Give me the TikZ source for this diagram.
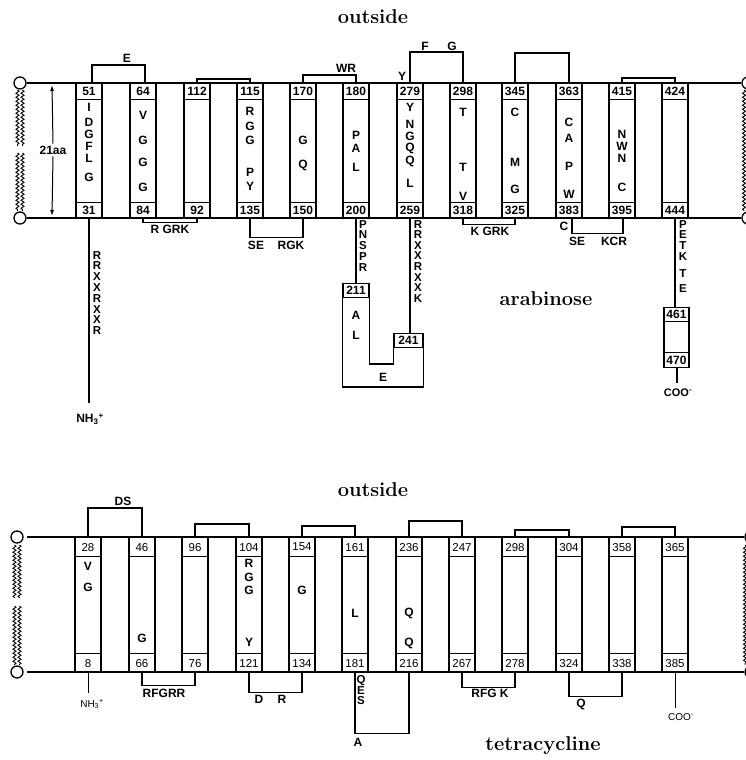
\documentclass[tikz,border=0pt]{standalone}
\usepackage{fontspec}
\setsansfont{Liberation Sans}
\usetikzlibrary{decorations.pathmorphing,arrows.meta}
\newcommand{\nhthree}{NH\textsubscript{3}\textsuperscript{+}}
\begin{document}
\begin{tikzpicture}[x=1pt,y=-1pt,
  memb/.style={line width=2.7pt},
  helix/.style={draw, line width=1.3pt, fill=white, minimum width=26pt, inner sep=0pt, anchor=north},
  numA/.style={draw, line width=1.2pt, fill=white, minimum width=26pt, minimum height=16pt, inner sep=0pt, font=\sffamily\bfseries\fontsize{12}{13}\selectfont},
  numB/.style={draw, line width=1.1pt, fill=white, minimum width=26pt, minimum height=19pt, inner sep=0pt, font=\sffamily\fontsize{11.5}{12}\selectfont},
  aa/.style={font=\sffamily\bfseries\fontsize{12}{13}\selectfont, inner sep=0pt},
  seq/.style={font=\sffamily\bfseries\fontsize{11.5}{10.8}\selectfont, align=center, inner sep=0pt, anchor=north},
  lab/.style={font=\sffamily\bfseries\fontsize{12}{13}\selectfont, inner sep=0pt},
  lp/.style={line width=1.3pt},
  ttl/.style={font=\bfseries\fontsize{20}{21}\selectfont, inner sep=0pt},
  lipid/.style={decorate, decoration={snake, amplitude=1.5pt, segment length=4pt}, line width=0.9pt},
  head/.style={circle, draw, line width=1.3pt, fill=white, minimum size=12pt, inner sep=0pt},
]
\useasboundingbox (0,0) rectangle (745,760);

% ================= TOP PANEL (arabinose) =================
\node[ttl] (out1) at (373,17) {outside};
\node[ttl] (arab) at (546,299) {arabinose};

\foreach \x/\t/\b [count=\i] in {89/51/31,143/64/84,197/112/92,250/115/135,303/170/150,356/180/200,410/279/259,463/298/318,515/345/325,569/363/383,622/415/395,675/424/444}{
  \node[helix, minimum height=135pt] (A\i) at (\x,83) {};
  \node[numA, anchor=north] (At\i) at (A\i.north) {\t};
  \node[numA, anchor=south] (Ab\i) at (A\i.south) {\b};
}

% residues inside helices
\foreach \h/\l/\y [count=\k] in {1/I/107,1/D/122,1/G/134,1/F/146,1/L/158,1/G/177,
  2/V/115,2/G/140,2/G/162,2/G/187,
  4/R/111,4/G/126,4/G/140,4/P/172,4/Y/186,
  5/G/140,5/Q/165,
  6/P/135,6/A/148,6/L/167,
  7/Y/107,7/N/124,7/G/136,7/Q/148,7/Q/161,7/L/183,
  8/T/112,8/T/167,8/V/196,
  9/C/112,9/M/162,9/G/189,
  10/C/122,10/A/138,10/P/166,10/W/194,
  11/N/134,11/W/146,11/N/158,11/C/187}{
  \node[aa] (ra\k) at (A\h.center |- 0,\y) {\l};
}

% membrane heads and lines
\node[head] (h1) at (20,83) {};
\node[head] (h2) at (20,218) {};
\node[head] (h3) at (748,83) {};
\node[head] (h4) at (748,218) {};
\draw[memb] (h1.east) -- (h3.west);
\draw[memb] (h2.east) -- (h4.west);
\draw[lipid] (17.5,90) -- (17.5,146);
\draw[lipid] (22.5,90) -- (22.5,146);
\draw[lipid] (17.5,153) -- (17.5,211);
\draw[lipid] (22.5,153) -- (22.5,211);
\draw[lipid] (744,90) -- (744,211);

% 21aa
\node[lab, fill=white, inner sep=2pt] (aa21) at (53,150) {21aa};
\coordinate (arT) at (52,85);
\coordinate (arB) at (52,216);
\draw[line width=1pt, -{Latex[length=6pt,width=4pt]}] (aa21.north) -- (arT);
\draw[line width=1pt, -{Latex[length=6pt,width=4pt]}] (aa21.south) -- (arB);

% outside loops
\draw[lp] ([xshift=3pt]A1.north) -- ++(0,-18) -| ([xshift=2pt]A2.north);
\node[lab] (lE) at (127,58) {E};
\draw[lp] (A3.north) -- ++(0,-4) -| (A4.north);
\draw[lp] (A5.north) -- ++(0,-8) -| (A6.north);
\node[lab] (lWR) at (346,68) {WR};
\draw[lp] (A7.north) -- ++(0,-31) -| (A8.north);
\node[lab] (lY) at (402,76) {Y};
\node[lab] (lF) at (425,46) {F};
\node[lab] (lG) at (452,46) {G};
\draw[lp] (A9.north) -- ++(0,-30) -| (A10.north);
\draw[lp] (A11.north) -- ++(0,-5) -| (A12.north);

% inside loops
\node[font=\sffamily\bfseries\fontsize{12}{13}\selectfont, inner sep=0pt] (nh3a) at (90,419) {\nhthree};
\draw[lp] (A1.south) -- (A1.south |- 0,403);
\node[seq] (sq1) at (97,251) {R\\R\\X\\X\\R\\X\\X\\R};

\draw[lp] (A2.south) -- ++(0,3) -| (A3.south);
\node[lab] (lRGRK) at (170,229) {R GRK};

\draw[lp] (A4.south) -- ++(0,18) -| (A5.south);
\node[lab] (lSE1) at (256,245) {SE};
\node[lab] (lRGK) at (291,245) {RGK};

\node[numA, minimum height=14pt, anchor=north] (n211) at (356,283) {211};
\node[numA, minimum width=29pt, minimum height=14pt, anchor=north] (n241) at (408.5,333) {241};
\draw[lp] (n211.north west) -- (n211.west |- 0,387) -- (n241.east |- 0,387) -- (n241.north east);
\draw[lp] (n241.west) -- (n241.west |- 0,364) -- (n211.east |- 0,364) -- (n211.east);
\draw[lp] (A6.south) -- (n211.north);
\draw[lp] (A7.south) -- (A7.south |- n241.north);
\node[seq] (sq2) at (363,220) {P\\N\\S\\P\\R};
\node[seq, font=\sffamily\bfseries\fontsize{11.5}{10.6}\selectfont] (sq3) at (418,220) {R\\R\\X\\X\\R\\X\\X\\K};
\node[lab] (lA1) at (356,315) {A};
\node[lab] (lL1) at (356,335) {L};
\node[lab] (lE2) at (383,377) {E};

\draw[lp] (A8.south) -- ++(0,5) -| (A9.south);
\node[lab] (lKGRK) at (490,231) {K GRK};

\draw[lp] ([xshift=3pt]A10.south) -- ++(0,14) -| ([xshift=1pt]A11.south);
\node[lab] (lC) at (564,226) {C};
\node[lab] (lSE2) at (577,241) {SE};
\node[lab] (lKCR) at (614,241) {KCR};

\node[numA, minimum width=25pt, minimum height=60pt, anchor=north] (cbox) at (676.5,307) {};
\node[numA, minimum width=25pt, minimum height=14pt, anchor=north] (n461) at (cbox.north) {461};
\node[numA, minimum width=25pt, minimum height=15pt, anchor=south] (n470) at (cbox.south) {470};
\draw[lp] (A12.south) -- (A12.south |- cbox.north);
\node[font=\sffamily\bfseries\fontsize{11}{12}\selectfont, inner sep=0pt] (cooa) at (678,393) {COO\textsuperscript{-}};
\draw[line width=2pt] (cbox.south) -- (cbox.south |- 0,383);
\node[seq] (sq4) at (683,220) {P\\E\\T\\K\\[6pt]T\\[4pt]E};

% ================= BOTTOM PANEL (tetracycline) =================
\node[ttl] (out2) at (373,490) {outside};
\node[ttl] (tetra) at (543,746) {tetracycline};

\foreach \x/\t/\b [count=\i] in {88/28/8,142/46/66,195/96/76,249/104/121,302/154/134,355/161/181,409/236/216,462/247/267,515/298/278,569/304/324,622/358/338,675/365/385}{
  \node[helix, minimum height=135pt] (B\i) at (\x,537) {};
  \node[numB, anchor=north] (Bt\i) at (B\i.north) {\t};
  \node[numB, anchor=south] (Bb\i) at (B\i.south) {\b};
}
\foreach \h/\l/\y [count=\k] in {1/V/566,1/G/587,2/G/638,4/R/563,4/G/577,4/G/590,4/Y/642,5/G/590,6/L/613,7/Q/613,7/Q/643}{
  \node[aa] (rb\k) at (B\h.center |- 0,\y) {\l};
}

\node[head] (h5) at (17,537) {};
\node[head] (h6) at (17,672) {};
\node[head] (h7) at (751,537) {};
\node[head] (h8) at (751,672) {};
\coordinate (m5) at (27,537);
\coordinate (m6) at (27,672);
\draw[memb] (m5) -- (h7.west);
\draw[memb] (m6) -- (h8.west);
\draw[lipid] (14.5,545) -- (14.5,598);
\draw[lipid] (19.5,545) -- (19.5,598);
\draw[lipid] (14.5,606) -- (14.5,665);
\draw[lipid] (19.5,606) -- (19.5,665);
\draw[lipid] (745,545) -- (745,665);

% outside loops
\draw[lp] (B1.north) -- ++(0,-29) -| (B2.north);
\node[lab] (lDS) at (123,501) {DS};
\draw[lp] (B3.north) -- ++(0,-13) -| (B4.north);
\draw[lp] (B5.north) -- ++(0,-11) -| (B6.north);
\draw[lp] (B7.north) -- ++(0,-16) -| (B8.north);
\draw[lp] (B9.north) -- ++(0,-7) -| (B10.north);
\draw[lp] (B11.north) -- ++(0,-10) -| (B12.north);

% inside loops
\node[font=\sffamily\fontsize{10}{11}\selectfont, inner sep=0pt] (nh3b) at (92,704) {\nhthree};
\draw[line width=1pt] (B1.south) -- (B1.south |- 0,693);
\draw[lp] (B2.south) -- ++(0,12) -| (B3.south);
\node[lab] (lRFGRR) at (164,693) {RFGRR};
\draw[lp] (B4.south) -- ++(0,19) -| (B5.south);
\node[lab] (lD) at (259,699) {D};
\node[lab] (lR) at (282,699) {R};
\draw[lp] (B6.south) -- ++(0,60) -| (B7.south);
\node[seq] (sq5) at (361,675) {Q\\E\\S};
\node[lab] (lA2) at (358,742) {A};
\draw[lp] (B8.south) -- ++(0,14) -| (B9.south);
\node[lab] (lRFGK) at (490,693) {RFG K};
\draw[lp] (B10.south) -- ++(0,23) -| (B11.south);
\node[lab] (lQ) at (581,704) {Q};
\draw[line width=1pt] (B12.south) -- (B12.south |- 0,708);
\node[font=\sffamily\fontsize{10}{11}\selectfont, inner sep=0pt] (coob) at (681,717) {COO\textsuperscript{-}};
\end{tikzpicture}
\end{document}
